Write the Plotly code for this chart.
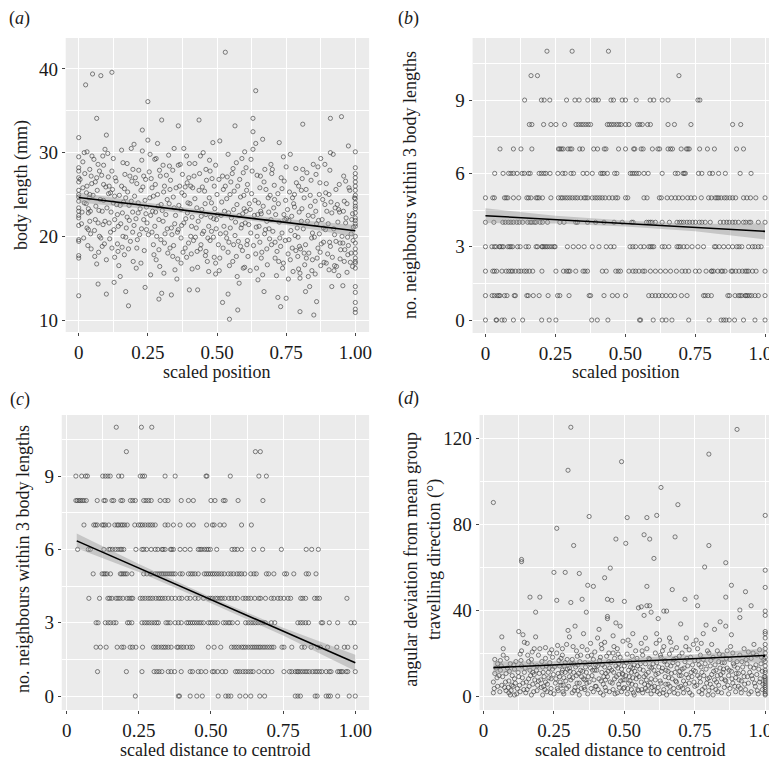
import plotly.graph_objects as go

W, H = 777, 759
FONT = "Liberation Serif"

# ---------------- panel (a): body length vs scaled position ----------------
a_points = [
    # column at 0
    (0, 31.8), (0, 29.5), (0, 28.2), (0, 27.8), (0, 27.0), (0, 26.5), (0, 25.5), (0, 25.0), (0, 24.7),
    (0, 24.2), (0, 23.4), (0, 23.0), (0, 22.5), (0, 22.2), (0, 21.3), (0, 19.6), (0, 19.4), (0, 17.7),
    (0, 17.4), (0, 12.9),
    (0.02, 30.0), (0.03, 30.1), (0.025, 38.1), (0.03, 26.0), (0.035, 22.8), (0.03, 21.0), (0.035, 20.8),
    (0.04, 25.0), (0.045, 18.5), (0.04, 28.0), (0.045, 27.2), (0.02, 24.0), (0.015, 25.8), (0.048, 29.6),
    (0.035, 23.3), (0.04, 21.8),
    (0.05, 39.4), (0.08, 39.2), (0.065, 34.1), (0.055, 29.2), (0.06, 26.5), (0.065, 27.0), (0.07, 28.6),
    (0.075, 27.8), (0.06, 22.0), (0.07, 21.6), (0.065, 16.7), (0.075, 20.0), (0.08, 19.8), (0.085, 23.0),
    (0.09, 26.2), (0.095, 30.4), (0.09, 28.5), (0.07, 14.3), (0.085, 18.8), (0.095, 21.8), (0.09, 24.3),
    (0.10, 32.1), (0.12, 39.6), (0.10, 13.1), (0.105, 29.9), (0.11, 26.0), (0.115, 25.2), (0.12, 27.8),
    (0.125, 29.3), (0.13, 24.8), (0.135, 26.6), (0.14, 22.6), (0.11, 21.6), (0.115, 20.5), (0.12, 18.6),
    (0.13, 17.5), (0.14, 19.1), (0.145, 16.5), (0.13, 22.0), (0.10, 17.2), (0.125, 24.0),
    (0.15, 15.2), (0.155, 30.3), (0.16, 28.8), (0.165, 25.7), (0.17, 24.6), (0.175, 22.3), (0.16, 20.0),
    (0.17, 19.9), (0.165, 17.8), (0.17, 13.4), (0.18, 11.7), (0.18, 18.5), (0.185, 27.2), (0.19, 24.2),
    (0.19, 30.5), (0.195, 22.9), (0.195, 20.5), (0.15, 23.7), (0.155, 26.0), (0.175, 28.7),
    (0.20, 31.0), (0.205, 27.0), (0.21, 26.3), (0.215, 24.0), (0.215, 22.8), (0.22, 20.2), (0.225, 16.8),
    (0.23, 32.7), (0.23, 30.2), (0.235, 27.2), (0.24, 24.3), (0.245, 20.8), (0.24, 13.9), (0.25, 36.1),
    (0.25, 31.5), (0.245, 23.5), (0.21, 18.6), (0.20, 21.3), (0.225, 25.5), (0.235, 22.0),
    (0.255, 27.7), (0.26, 22.5), (0.265, 20.5), (0.26, 15.4), (0.27, 24.8), (0.275, 21.2), (0.28, 29.3),
    (0.285, 31.1), (0.285, 25.0), (0.29, 22.0), (0.29, 12.5), (0.295, 27.2), (0.29, 18.4), (0.27, 19.0),
    (0.28, 17.2), (0.265, 25.8), (0.298, 23.8), (0.275, 29.2),
    (0.30, 33.9), (0.30, 13.2), (0.305, 28.5), (0.31, 26.0), (0.315, 22.6), (0.32, 20.9), (0.325, 29.7),
    (0.33, 25.6), (0.335, 13.0), (0.335, 21.0), (0.34, 27.9), (0.34, 17.6), (0.345, 23.4), (0.31, 19.2),
    (0.32, 24.4), (0.33, 18.6), (0.345, 30.5), (0.305, 21.8), (0.348, 16.0),
    (0.355, 14.9), (0.36, 33.2), (0.36, 28.5), (0.365, 26.0), (0.37, 23.2), (0.37, 19.8), (0.375, 27.4),
    (0.38, 30.5), (0.385, 25.9), (0.38, 21.6), (0.39, 17.5), (0.39, 29.6), (0.395, 24.0), (0.35, 22.5),
    (0.36, 20.8), (0.385, 18.6), (0.398, 27.0), (0.37, 16.8),
    (0.40, 13.6), (0.40, 28.7), (0.405, 26.0), (0.41, 22.3), (0.41, 16.1), (0.415, 19.5), (0.42, 28.7),
    (0.425, 21.0), (0.43, 13.6), (0.43, 16.3), (0.435, 33.9), (0.435, 25.5), (0.44, 29.6), (0.445, 23.2),
    (0.44, 18.5), (0.42, 24.5), (0.447, 20.3), (0.405, 20.0),
    (0.45, 30.0), (0.455, 25.4), (0.46, 22.6), (0.46, 18.2), (0.465, 17.0), (0.47, 21.2), (0.47, 15.8),
    (0.475, 27.8), (0.48, 24.0), (0.48, 20.6), (0.485, 31.2), (0.49, 26.0), (0.49, 17.5), (0.495, 15.5),
    (0.495, 16.8), (0.495, 28.5), (0.46, 28.0), (0.475, 19.5), (0.498, 22.0),
    (0.50, 25.0), (0.505, 19.0), (0.51, 31.4), (0.515, 22.5), (0.52, 12.1), (0.52, 27.2), (0.525, 21.2),
    (0.53, 42.0), (0.53, 26.0), (0.535, 24.5), (0.54, 29.8), (0.54, 18.1), (0.545, 10.1), (0.545, 16.5),
    (0.54, 13.1), (0.55, 26.5), (0.548, 21.0), (0.51, 17.4), (0.535, 19.8),
    (0.555, 27.5), (0.56, 23.2), (0.565, 33.2), (0.565, 20.1), (0.57, 17.6), (0.575, 11.2), (0.575, 26.0),
    (0.58, 14.4), (0.585, 24.7), (0.585, 18.8), (0.59, 29.3), (0.59, 21.4), (0.595, 27.6), (0.595, 16.2),
    (0.56, 19.0), (0.58, 22.5), (0.598, 23.3), (0.57, 28.8),
    (0.60, 30.1), (0.60, 16.3), (0.605, 23.0), (0.61, 26.2), (0.61, 19.5), (0.615, 21.4), (0.62, 15.9),
    (0.625, 25.1), (0.63, 34.1), (0.63, 32.5), (0.63, 30.4), (0.635, 22.5), (0.64, 37.4), (0.64, 31.1),
    (0.64, 17.9), (0.645, 27.3), (0.645, 20.0), (0.62, 23.2), (0.605, 28.2), (0.648, 14.8),
    (0.65, 24.0), (0.655, 19.3), (0.66, 22.7), (0.665, 31.6), (0.665, 15.4), (0.67, 13.4), (0.67, 26.5),
    (0.675, 20.8), (0.68, 18.5), (0.685, 24.6), (0.69, 19.7), (0.695, 28.6), (0.695, 22.0), (0.66, 17.4),
    (0.68, 21.8), (0.698, 27.5), (0.655, 25.8),
    (0.70, 28.0), (0.705, 23.4), (0.71, 19.3), (0.715, 15.3), (0.72, 12.7), (0.72, 25.1), (0.725, 31.2),
    (0.725, 21.7), (0.73, 18.8), (0.73, 11.6), (0.735, 25.7), (0.74, 29.5), (0.74, 16.8), (0.745, 22.0),
    (0.748, 24.3), (0.71, 17.4), (0.735, 20.4),
    (0.75, 12.6), (0.75, 28.3), (0.755, 23.2), (0.76, 19.6), (0.765, 17.2), (0.765, 29.8), (0.77, 22.4),
    (0.775, 15.8), (0.78, 25.0), (0.785, 18.3), (0.785, 28.1), (0.79, 21.0), (0.795, 26.0), (0.795, 16.1),
    (0.76, 21.9), (0.78, 23.5), (0.798, 18.8),
    (0.80, 11.0), (0.80, 15.0), (0.80, 15.6), (0.805, 21.8), (0.81, 33.4), (0.81, 28.0), (0.815, 24.6),
    (0.82, 19.0), (0.82, 13.4), (0.825, 27.6), (0.83, 15.2), (0.83, 22.5), (0.835, 14.0), (0.84, 26.7),
    (0.845, 20.4), (0.845, 17.2), (0.848, 28.6), (0.815, 18.0), (0.805, 25.5), (0.838, 23.6),
    (0.85, 10.6), (0.855, 15.5), (0.855, 24.2), (0.86, 21.5), (0.86, 12.2), (0.865, 28.3), (0.865, 18.6),
    (0.87, 25.0), (0.875, 16.5), (0.875, 29.3), (0.88, 22.0), (0.885, 19.3), (0.89, 23.8), (0.89, 28.6),
    (0.895, 16.8), (0.895, 26.3), (0.87, 20.3), (0.885, 21.0),
    (0.90, 17.9), (0.905, 25.0), (0.91, 34.1), (0.91, 30.0), (0.91, 18.8), (0.915, 14.0), (0.915, 22.8),
    (0.92, 29.8), (0.925, 16.5), (0.925, 20.2), (0.93, 25.6), (0.935, 23.8), (0.94, 15.3), (0.945, 19.2),
    (0.945, 17.3), (0.95, 34.3), (0.94, 23.2), (0.905, 16.0), (0.93, 19.4),
    (0.955, 14.1), (0.955, 19.2), (0.96, 17.0), (0.965, 26.6), (0.965, 21.6), (0.97, 23.9), (0.97, 15.7),
    (0.975, 30.8), (0.975, 18.9), (0.98, 25.5), (0.985, 20.3), (0.99, 16.4), (0.99, 22.7), (0.96, 24.2),
    (0.985, 18.0),
    # column at 1
    (1, 30.1), (1, 28.2), (1, 27.5), (1, 27.0), (1, 26.5), (1, 26.0), (1, 25.5), (1, 24.9), (1, 24.5),
    (1, 24.0), (1, 23.6), (1, 23.3), (1, 22.8), (1, 22.2), (1, 21.9), (1, 21.5), (1, 21.2), (1, 20.0),
    (1, 19.2), (1, 18.5), (1, 18.0), (1, 17.4), (1, 17.0), (1, 16.8), (1, 16.2), (1, 14.0), (1, 13.3),
    (1, 12.1), (1, 11.3), (1, 10.9),
]
# further points of the dense central cloud of panel (a)
a_points_cloud = [
    (0.005, 26.8), (0.012, 22.9), (0.018, 19.8), (0.022, 27.5), (0.027, 23.9), (0.033, 18.9), (0.038, 24.6),
    (0.043, 20.3), (0.047, 26.3), (0.01, 21.5), (0.028, 25.2), (0.042, 23.0), (0.015, 28.9),
    (0.052, 24.9), (0.057, 20.7), (0.062, 23.6), (0.067, 25.5), (0.072, 18.1), (0.078, 24.4), (0.083, 27.3),
    (0.088, 21.4), (0.093, 19.1), (0.098, 25.9), (0.058, 17.6), (0.073, 23.1), (0.087, 29.6),
    (0.102, 23.4), (0.107, 27.1), (0.112, 19.7), (0.117, 22.9), (0.122, 25.6), (0.127, 20.8), (0.132, 27.0),
    (0.137, 23.8), (0.142, 18.2), (0.147, 24.9), (0.108, 25.1), (0.128, 14.5), (0.143, 21.2),
    (0.152, 21.5), (0.157, 18.7), (0.162, 24.1), (0.167, 27.4), (0.172, 21.0), (0.177, 25.3), (0.182, 23.7),
    (0.187, 19.4), (0.192, 26.6), (0.197, 17.0), (0.158, 22.8), (0.183, 21.9), (0.196, 28.0),
    (0.202, 24.8), (0.207, 22.1), (0.212, 19.6), (0.217, 27.9), (0.222, 23.3), (0.227, 20.9), (0.232, 25.9),
    (0.237, 18.3), (0.242, 26.8), (0.247, 21.6), (0.208, 16.2), (0.228, 29.1), (0.243, 22.7),
    (0.252, 20.2), (0.257, 24.6), (0.262, 26.9), (0.267, 23.0), (0.272, 17.8), (0.277, 26.2), (0.282, 20.0),
    (0.287, 23.6), (0.292, 27.9), (0.297, 19.6), (0.258, 29.8), (0.278, 22.9), (0.293, 16.4),
    (0.302, 23.1), (0.307, 25.3), (0.312, 20.3), (0.317, 27.3), (0.322, 18.0), (0.327, 23.9), (0.332, 26.7),
    (0.337, 20.2), (0.342, 24.7), (0.347, 21.5), (0.308, 15.6), (0.328, 28.4), (0.343, 18.9),
    (0.352, 25.8), (0.357, 20.5), (0.362, 23.7), (0.367, 28.6), (0.372, 21.3), (0.377, 18.1), (0.382, 24.9),
    (0.387, 22.1), (0.392, 26.4), (0.397, 19.2), (0.358, 17.3), (0.373, 25.2), (0.393, 22.8),
    (0.402, 23.9), (0.407, 17.9), (0.412, 25.8), (0.417, 27.2), (0.422, 19.9), (0.427, 23.4), (0.432, 21.8),
    (0.437, 27.5), (0.442, 19.0), (0.447, 25.9), (0.408, 21.2), (0.428, 18.2), (0.443, 22.4),
    (0.452, 20.6), (0.457, 23.9), (0.462, 26.7), (0.467, 19.8), (0.472, 24.6), (0.477, 22.3), (0.482, 26.9),
    (0.487, 19.9), (0.492, 23.3), (0.497, 20.9), (0.458, 17.7), (0.473, 29.1), (0.488, 22.1),
    (0.502, 22.6), (0.507, 26.8), (0.512, 20.3), (0.517, 24.1), (0.522, 18.6), (0.527, 23.0), (0.532, 20.4),
    (0.537, 27.1), (0.542, 22.8), (0.547, 25.0), (0.508, 15.9), (0.523, 25.6), (0.543, 19.3),
    (0.552, 22.2), (0.557, 17.0), (0.562, 25.4), (0.567, 21.7), (0.572, 23.8), (0.577, 19.4), (0.582, 26.8),
    (0.587, 21.0), (0.592, 18.3), (0.597, 24.9), (0.558, 28.1), (0.573, 15.2), (0.593, 22.7),
    (0.602, 21.6), (0.607, 25.5), (0.612, 17.6), (0.617, 23.9), (0.622, 20.4), (0.627, 27.8), (0.632, 18.9),
    (0.637, 24.3), (0.642, 21.1), (0.647, 22.6), (0.608, 19.0), (0.623, 29.2), (0.643, 16.2),
    (0.652, 21.2), (0.657, 27.2), (0.662, 18.1), (0.667, 23.6), (0.672, 20.3), (0.677, 25.6), (0.682, 16.6),
    (0.687, 22.9), (0.692, 24.9), (0.697, 19.0), (0.658, 23.0), (0.673, 28.0), (0.688, 20.9),
    (0.702, 20.6), (0.707, 26.1), (0.712, 22.6), (0.717, 18.2), (0.722, 23.9), (0.727, 19.8), (0.732, 27.0),
    (0.737, 16.2), (0.742, 22.6), (0.747, 19.5), (0.708, 24.4), (0.723, 17.0), (0.743, 26.6),
    (0.752, 22.1), (0.757, 17.9), (0.762, 25.3), (0.767, 20.7), (0.772, 18.6), (0.777, 23.9), (0.782, 20.1),
    (0.787, 26.4), (0.792, 17.6), (0.797, 22.9), (0.758, 14.9), (0.773, 24.6), (0.793, 19.9),
    (0.802, 18.5), (0.807, 23.3), (0.812, 20.9), (0.817, 16.6), (0.822, 25.6), (0.827, 21.8), (0.832, 18.0),
    (0.837, 24.9), (0.842, 19.8), (0.847, 22.4), (0.808, 26.9), (0.823, 17.4), (0.843, 15.9),
    (0.852, 19.9), (0.857, 23.0), (0.862, 17.4), (0.867, 21.9), (0.872, 26.4), (0.877, 19.1), (0.882, 24.4),
    (0.887, 16.9), (0.892, 20.8), (0.897, 23.0), (0.858, 27.4), (0.873, 18.1), (0.893, 25.2),
    (0.902, 21.5), (0.907, 19.3), (0.912, 24.1), (0.917, 17.5), (0.922, 20.9), (0.927, 23.4), (0.932, 16.4),
    (0.937, 21.7), (0.942, 26.2), (0.947, 18.4), (0.908, 27.9), (0.923, 15.9), (0.943, 22.9),
    (0.952, 20.0), (0.957, 23.0), (0.962, 18.4), (0.967, 22.2), (0.972, 19.9), (0.977, 25.8), (0.982, 16.9),
    (0.987, 22.0), (0.992, 19.5), (0.997, 24.6), (0.958, 27.2), (0.973, 17.8), (0.993, 21.1),
]
a_fit_x = [0, 1]
a_fit_y = [24.64, 20.66]
a_band_x = [0, 0.25, 0.5, 0.75, 1]
a_band_lo = [24.04, 23.28, 22.35, 21.36, 19.96]
a_band_hi = [25.24, 24.02, 22.95, 22.06, 21.36]

# ---------------- panel (b): neighbours vs scaled position ----------------
b_n11 = [0.22, 0.31, 0.44]
b_n10 = [0.163, 0.186, 0.692]
b_n9 = [0.14, 0.20, 0.21, 0.23, 0.29, 0.32, 0.335, 0.366, 0.385, 0.394, 0.404, 0.449, 0.458, 0.489,
        0.501, 0.539, 0.589, 0.602, 0.632, 0.653, 0.760, 0.767]
b_n8 = [0.157, 0.166, 0.208, 0.234, 0.252, 0.283, 0.324, 0.333, 0.342, 0.350, 0.359, 0.368, 0.376, 0.436,
        0.443, 0.451, 0.459, 0.469, 0.477, 0.485, 0.501, 0.513, 0.544, 0.552, 0.561, 0.580, 0.590, 0.653,
        0.676, 0.735, 0.884, 0.913]
b_n7 = [0.052, 0.100, 0.127, 0.166, 0.261, 0.266, 0.272, 0.278, 0.295, 0.303, 0.309, 0.337, 0.347, 0.387,
        0.401, 0.425, 0.431, 0.476, 0.501, 0.530, 0.534, 0.557, 0.564, 0.597, 0.617, 0.623, 0.653, 0.662,
        0.669, 0.700, 0.719, 0.724, 0.729, 0.766, 0.794, 0.819, 0.898, 0.923]
b_n6 = [0.033, 0.063, 0.083, 0.091, 0.100, 0.113, 0.131, 0.139, 0.154, 0.160, 0.192, 0.200, 0.209, 0.216,
        0.231, 0.259, 0.276, 0.285, 0.306, 0.315, 0.349, 0.363, 0.382, 0.412, 0.418, 0.424, 0.436, 0.462,
        0.470, 0.518, 0.525, 0.532, 0.540, 0.549, 0.567, 0.582, 0.632, 0.679, 0.688, 0.707, 0.711, 0.715,
        0.762, 0.774, 0.802, 0.812, 0.834, 0.858, 0.911, 0.950]
b_n5 = [0.000, 0.026, 0.032, 0.068, 0.074, 0.080, 0.100, 0.119, 0.148, 0.154, 0.163, 0.181, 0.186, 0.192,
        0.204, 0.234, 0.261, 0.270, 0.276, 0.285, 0.293, 0.302, 0.311, 0.321, 0.329, 0.341, 0.353, 0.359,
        0.366, 0.382, 0.392, 0.400, 0.409, 0.418, 0.428, 0.442, 0.454, 0.466, 0.473, 0.501, 0.509, 0.567,
        0.578, 0.622, 0.629, 0.650, 0.665, 0.679, 0.691, 0.705, 0.723, 0.735, 0.748, 0.772, 0.798, 0.808,
        0.822, 0.828, 0.834, 0.843, 0.855, 0.863, 0.874, 0.884, 0.895, 0.923, 0.935, 0.948, 0.967, 1.000]
b_n4 = [0.000, 0.030, 0.062, 0.071, 0.082, 0.091, 0.100, 0.112, 0.121, 0.133, 0.151, 0.160, 0.166, 0.175,
        0.181, 0.195, 0.204, 0.222, 0.266, 0.281, 0.323, 0.329, 0.365, 0.394, 0.424, 0.460, 0.489, 0.523,
        0.528, 0.576, 0.584, 0.590, 0.596, 0.608, 0.632, 0.658, 0.685, 0.694, 0.701, 0.709, 0.721, 0.730,
        0.741, 0.751, 0.765, 0.774, 0.786, 0.804, 0.840, 0.852, 0.863, 0.872, 0.884, 0.893, 0.905, 0.923,
        0.931, 0.943, 0.949, 0.976, 1.000]
b_n3 = [0.000, 0.023, 0.032, 0.038, 0.050, 0.052, 0.059, 0.064, 0.080, 0.086, 0.091, 0.097, 0.115, 0.124,
        0.145, 0.154, 0.181, 0.186, 0.202, 0.204, 0.210, 0.216, 0.222, 0.230, 0.238, 0.246, 0.249, 0.293,
        0.314, 0.333, 0.353, 0.382, 0.406, 0.432, 0.448, 0.460, 0.517, 0.527, 0.537, 0.555, 0.567, 0.584,
        0.590, 0.596, 0.602, 0.632, 0.641, 0.656, 0.685, 0.691, 0.697, 0.709, 0.721, 0.739, 0.760, 0.780,
        0.819, 0.824, 0.836, 0.852, 0.869, 0.884, 0.899, 0.907, 0.917, 0.941, 0.955, 0.964, 0.976, 0.986]
b_n2 = [0.000, 0.026, 0.032, 0.040, 0.059, 0.074, 0.083, 0.091, 0.097, 0.107, 0.119, 0.127, 0.139, 0.147,
        0.157, 0.169, 0.202, 0.252, 0.279, 0.290, 0.297, 0.302, 0.323, 0.349, 0.356, 0.365, 0.418, 0.432,
        0.466, 0.475, 0.483, 0.513, 0.528, 0.537, 0.549, 0.563, 0.570, 0.590, 0.608, 0.626, 0.644, 0.662,
        0.683, 0.703, 0.715, 0.727, 0.751, 0.765, 0.789, 0.808, 0.810, 0.816, 0.831, 0.843, 0.848, 0.857,
        0.879, 0.884, 0.895, 0.907, 0.919, 0.929, 0.935, 0.941, 0.955, 0.968, 1.000]
b_n1 = [0.000, 0.024, 0.032, 0.042, 0.048, 0.052, 0.068, 0.077, 0.103, 0.107, 0.148, 0.153, 0.171, 0.192,
        0.224, 0.258, 0.266, 0.299, 0.371, 0.376, 0.424, 0.454, 0.472, 0.501, 0.584, 0.596, 0.608, 0.620,
        0.632, 0.646, 0.662, 0.677, 0.701, 0.721, 0.780, 0.786, 0.796, 0.808, 0.867, 0.873, 0.893, 0.905,
        0.911, 0.917, 0.929, 0.932, 0.937, 0.944, 0.952, 0.964, 0.976, 1.000]
b_n0 = [0.000, 0.038, 0.040, 0.059, 0.068, 0.100, 0.133, 0.201, 0.228, 0.252, 0.380, 0.400, 0.438, 0.551,
        0.555, 0.600, 0.632, 0.646, 0.667, 0.727, 0.800, 0.843, 0.852, 0.860, 0.872, 0.891, 0.923, 0.964,
        1.000]
b_fit_x = [0, 1]
b_fit_y = [4.27, 3.63]
b_band_x = [0, 0.25, 0.5, 0.75, 1]
b_band_lo = [3.97, 3.95, 3.83, 3.63, 3.30]
b_band_hi = [4.57, 4.27, 4.07, 3.93, 3.96]

# ---------------- panel (c): neighbours vs distance to centroid ----------------
c_n11 = [0.172, 0.259, 0.295]
c_n10 = [0.207, 0.654, 0.671]
c_n9 = [0.032, 0.052, 0.066, 0.072, 0.125, 0.134, 0.143, 0.151, 0.180, 0.191, 0.255, 0.263, 0.270, 0.341,
        0.376, 0.483, 0.486, 0.567, 0.666, 0.692]
c_n8 = [0.032, 0.037, 0.043, 0.048, 0.054, 0.060, 0.068, 0.106, 0.129, 0.134, 0.157, 0.163, 0.188, 0.194,
        0.221, 0.229, 0.238, 0.267, 0.275, 0.284, 0.293, 0.324, 0.341, 0.351, 0.397, 0.422, 0.439, 0.500,
        0.514, 0.543, 0.549, 0.594, 0.680]
c_n7 = [0.060, 0.094, 0.100, 0.106, 0.123, 0.128, 0.134, 0.146, 0.167, 0.175, 0.180, 0.188, 0.194, 0.201,
        0.210, 0.236, 0.249, 0.256, 0.263, 0.272, 0.282, 0.290, 0.298, 0.307, 0.341, 0.351, 0.370, 0.393,
        0.422, 0.439, 0.485, 0.505, 0.511, 0.531, 0.546, 0.606, 0.640]
c_n6 = [0.038, 0.075, 0.082, 0.129, 0.146, 0.151, 0.159, 0.169, 0.178, 0.186, 0.191, 0.198, 0.240, 0.261,
        0.267, 0.277, 0.293, 0.307, 0.316, 0.330, 0.334, 0.341, 0.360, 0.364, 0.370, 0.393, 0.410, 0.428,
        0.456, 0.462, 0.468, 0.477, 0.485, 0.491, 0.498, 0.520, 0.573, 0.582, 0.591, 0.606, 0.648, 0.679,
        0.744, 0.830, 0.849, 0.872]
c_n5 = [0.092, 0.123, 0.129, 0.134, 0.140, 0.152, 0.186, 0.191, 0.197, 0.203, 0.209, 0.226, 0.267, 0.278,
        0.290, 0.295, 0.307, 0.314, 0.321, 0.328, 0.334, 0.341, 0.348, 0.355, 0.362, 0.369, 0.376, 0.393,
        0.401, 0.422, 0.430, 0.437, 0.445, 0.456, 0.477, 0.484, 0.491, 0.498, 0.505, 0.512, 0.520, 0.528,
        0.537, 0.546, 0.560, 0.569, 0.578, 0.590, 0.598, 0.606, 0.617, 0.638, 0.649, 0.657, 0.692, 0.700,
        0.718, 0.755, 0.762, 0.787, 0.830, 0.838, 0.864]
c_n4 = [0.077, 0.114, 0.143, 0.149, 0.157, 0.171, 0.178, 0.185, 0.195, 0.209, 0.217, 0.224, 0.229, 0.255,
        0.263, 0.272, 0.282, 0.290, 0.298, 0.309, 0.318, 0.325, 0.332, 0.341, 0.352, 0.364, 0.376, 0.390,
        0.399, 0.417, 0.428, 0.445, 0.456, 0.474, 0.491, 0.498, 0.505, 0.516, 0.523, 0.532, 0.539, 0.548,
        0.562, 0.571, 0.582, 0.592, 0.611, 0.620, 0.629, 0.638, 0.652, 0.666, 0.672, 0.689, 0.709, 0.718,
        0.732, 0.741, 0.753, 0.767, 0.776, 0.811, 0.818, 0.828, 0.859, 0.868, 0.876, 0.971]
c_n3 = [0.102, 0.109, 0.134, 0.144, 0.152, 0.163, 0.171, 0.211, 0.217, 0.226, 0.261, 0.270, 0.278, 0.286,
        0.295, 0.304, 0.312, 0.318, 0.344, 0.351, 0.359, 0.376, 0.387, 0.397, 0.416, 0.422, 0.429, 0.436,
        0.443, 0.451, 0.459, 0.466, 0.474, 0.491, 0.498, 0.505, 0.514, 0.523, 0.543, 0.551, 0.560, 0.566,
        0.574, 0.592, 0.620, 0.629, 0.638, 0.646, 0.654, 0.663, 0.672, 0.680, 0.688, 0.709, 0.721, 0.801,
        0.810, 0.818, 0.828, 0.838, 0.882, 0.887, 0.910, 0.939, 0.985, 0.997]
c_n2 = [0.102, 0.117, 0.137, 0.175, 0.191, 0.198, 0.220, 0.228, 0.240, 0.263, 0.301, 0.309, 0.318, 0.328,
        0.336, 0.343, 0.352, 0.362, 0.382, 0.387, 0.397, 0.405, 0.416, 0.428, 0.436, 0.491, 0.511, 0.534,
        0.571, 0.580, 0.588, 0.596, 0.606, 0.613, 0.620, 0.629, 0.638, 0.645, 0.652, 0.659, 0.666, 0.672,
        0.680, 0.687, 0.695, 0.703, 0.711, 0.718, 0.746, 0.753, 0.780, 0.815, 0.824, 0.847, 0.870, 0.879,
        0.904, 0.936, 0.962, 0.974, 1.000]
c_n1 = [0.107, 0.207, 0.261, 0.303, 0.312, 0.320, 0.330, 0.352, 0.362, 0.374, 0.397, 0.428, 0.436, 0.456,
        0.466, 0.482, 0.505, 0.511, 0.523, 0.539, 0.551, 0.585, 0.592, 0.600, 0.611, 0.620, 0.629, 0.638,
        0.646, 0.666, 0.684, 0.697, 0.711, 0.753, 0.772, 0.780, 0.792, 0.799, 0.803, 0.810, 0.818, 0.826,
        0.833, 0.841, 0.852, 0.861, 0.868, 0.876, 0.884, 0.899, 0.910, 0.916, 0.939, 0.945, 0.951, 0.956,
        0.968, 0.974, 1.000]
c_n0 = [0.238, 0.387, 0.391, 0.428, 0.451, 0.470, 0.525, 0.551, 0.560, 0.569, 0.600, 0.620, 0.638, 0.669,
        0.686, 0.792, 0.801, 0.810, 0.861, 0.868, 0.899, 0.907, 0.914, 0.939, 0.979, 1.000]
c_fit_x = [0.035, 1]
c_fit_y = [6.35, 1.36]
c_band_x = [0.035, 0.25, 0.5, 0.75, 1]
c_band_lo = [6.05, 5.08, 3.80, 2.48, 1.03]
c_band_hi = [6.65, 5.40, 4.04, 2.80, 1.69]

# ---------------- panel (d): angular deviation vs distance to centroid ----------------
d_points = [
    (0.035, 90), (0.035, 1.5), (0.035, 6.5), (0.04, 10.5), (0.04, 17), (0.045, 13), (0.05, 4.5), (0.05, 15),
    (0.055, 9.5), (0.06, 16.5), (0.065, 5), (0.065, 27.5), (0.07, 22), (0.075, 4), (0.08, 10.5), (0.085, 13),
    (0.09, 1.5), (0.09, 7), (0.095, 0.5), (0.095, 15), (0.06, 12), (0.08, 2.5), (0.07, 19),
    (0.10, 5), (0.105, 4.5), (0.11, 0.5), (0.11, 12.5), (0.115, 16), (0.12, 3.5), (0.125, 30), (0.125, 9),
    (0.13, 2), (0.13, 19.5), (0.135, 14), (0.135, 63.5), (0.135, 62.5), (0.14, 28.5), (0.14, 6), (0.145, 11),
    (0.145, 25), (0.15, 1.5), (0.11, 8), (0.135, 21),
    (0.155, 24.5), (0.155, 3), (0.16, 8), (0.165, 12), (0.165, 46), (0.17, 0.5), (0.17, 17), (0.175, 5.5),
    (0.18, 22), (0.18, 10), (0.185, 39), (0.185, 27.5), (0.19, 2.5), (0.19, 14), (0.195, 7), (0.195, 19),
    (0.16, 16), (0.175, 11),
    (0.20, 46), (0.20, 22), (0.205, 4), (0.21, 13.5), (0.21, 0.5), (0.215, 9), (0.22, 17.5), (0.22, 6.5),
    (0.225, 2), (0.23, 11), (0.235, 20), (0.235, 15.5), (0.24, 3.5), (0.24, 8), (0.245, 12.5), (0.25, 57.5),
    (0.25, 1), (0.22, 22.5), (0.245, 18),
    (0.255, 6), (0.26, 78), (0.26, 44.5), (0.26, 20), (0.265, 10.5), (0.265, 2.5), (0.27, 14), (0.275, 17.5),
    (0.275, 5), (0.28, 22), (0.28, 12), (0.285, 8.5), (0.285, 1), (0.29, 57.5), (0.29, 15.5), (0.295, 24),
    (0.295, 3.5), (0.27, 9), (0.29, 11), (0.28, 19),
    (0.30, 105), (0.30, 30.5), (0.305, 27.5), (0.305, 13), (0.31, 125), (0.31, 43.5), (0.31, 7.5),
    (0.315, 1.5), (0.315, 17), (0.32, 70), (0.32, 11), (0.325, 32.5), (0.325, 4), (0.33, 21), (0.33, 9.5),
    (0.335, 14.5), (0.34, 57), (0.34, 6), (0.34, 0.5), (0.345, 19), (0.345, 12), (0.335, 2.5), (0.32, 15),
    (0.305, 9),
    (0.35, 45), (0.35, 23), (0.355, 8), (0.355, 29), (0.36, 3), (0.36, 15.5), (0.365, 39), (0.365, 11),
    (0.37, 51.5), (0.37, 18.5), (0.37, 1), (0.375, 83.5), (0.375, 6.5), (0.38, 13), (0.38, 24.5),
    (0.385, 9.5), (0.39, 51), (0.39, 2), (0.39, 17), (0.395, 12), (0.395, 20.5), (0.36, 7.5),
    (0.40, 4.5), (0.405, 27), (0.405, 14), (0.41, 31), (0.41, 8), (0.415, 1.5), (0.415, 18), (0.42, 11),
    (0.42, 22), (0.425, 5.5), (0.43, 55), (0.43, 25), (0.43, 13.5), (0.435, 2.5), (0.44, 45), (0.44, 37),
    (0.44, 36), (0.44, 9), (0.445, 16), (0.445, 20), (0.45, 59.5), (0.45, 6.5), (0.425, 0.5), (0.435, 10.5),
    (0.455, 44.5), (0.455, 12), (0.46, 3), (0.46, 28), (0.465, 17.5), (0.465, 8), (0.47, 73), (0.47, 34),
    (0.47, 14), (0.475, 1.5), (0.475, 22), (0.48, 10), (0.48, 5.5), (0.485, 32.5), (0.485, 18), (0.49, 109),
    (0.49, 12.5), (0.49, 2), (0.495, 7.5), (0.495, 25.5), (0.46, 20), (0.48, 15), (0.495, 10),
    (0.50, 44), (0.50, 14), (0.50, 4), (0.505, 71), (0.505, 9.5), (0.51, 83), (0.51, 19.5), (0.51, 1),
    (0.515, 12), (0.515, 6), (0.52, 23.5), (0.52, 16), (0.525, 3), (0.525, 11), (0.53, 29), (0.53, 8.5),
    (0.535, 14.5), (0.535, 0.5), (0.54, 21), (0.54, 5), (0.545, 10), (0.545, 17.5), (0.55, 41), (0.55, 2.5),
    (0.52, 7), (0.53, 13),
    (0.555, 12.5), (0.56, 41.5), (0.56, 6.5), (0.565, 19), (0.565, 1.5), (0.57, 75), (0.57, 37.5), (0.57, 9),
    (0.575, 15), (0.575, 3.5), (0.58, 83), (0.58, 51), (0.58, 42), (0.58, 22), (0.585, 11), (0.585, 5),
    (0.59, 73), (0.59, 42), (0.59, 17), (0.595, 39), (0.595, 8), (0.595, 1), (0.56, 24.5), (0.575, 27),
    (0.59, 13.5),
    (0.605, 64), (0.605, 12), (0.605, 2.5), (0.61, 20), (0.61, 7.5), (0.615, 84), (0.615, 15.5), (0.62, 36),
    (0.62, 4), (0.62, 10.5), (0.625, 26), (0.625, 1), (0.63, 97), (0.63, 18), (0.63, 6), (0.635, 13),
    (0.64, 39.5), (0.64, 23), (0.64, 3), (0.645, 9), (0.645, 16.5), (0.65, 39.5), (0.65, 0.5), (0.615, 29),
    (0.635, 21),
    (0.655, 11.5), (0.655, 5.5), (0.66, 19.5), (0.66, 2), (0.665, 14), (0.665, 25), (0.67, 49.5), (0.67, 8),
    (0.675, 17), (0.675, 3.5), (0.68, 74), (0.68, 11), (0.685, 22.5), (0.685, 6.5), (0.69, 89), (0.69, 15),
    (0.69, 1), (0.695, 18.5), (0.695, 9.5), (0.70, 33.5), (0.66, 27),
    (0.70, 4.5), (0.705, 12.5), (0.705, 20), (0.71, 7), (0.71, 1.5), (0.715, 45), (0.715, 16), (0.72, 10),
    (0.72, 27), (0.725, 3), (0.725, 14), (0.73, 21.5), (0.73, 6), (0.735, 18), (0.74, 9), (0.74, 0.5),
    (0.745, 12), (0.745, 24), (0.75, 4.5), (0.75, 16.5),
    (0.755, 46), (0.755, 26), (0.76, 42), (0.76, 9.5), (0.765, 2), (0.765, 14.5), (0.77, 19), (0.77, 6.5),
    (0.775, 11), (0.775, 1), (0.78, 29), (0.78, 17), (0.785, 60), (0.785, 4), (0.79, 33), (0.79, 12.5),
    (0.795, 21), (0.795, 8), (0.80, 112.5), (0.80, 70), (0.80, 20), (0.80, 2.5), (0.76, 22),
    (0.805, 14), (0.805, 5.5), (0.81, 24), (0.81, 10), (0.815, 0.5), (0.815, 18), (0.82, 31), (0.82, 7.5),
    (0.825, 12), (0.825, 3), (0.83, 9.5), (0.83, 21), (0.835, 16), (0.835, 5), (0.84, 34.5), (0.84, 13),
    (0.845, 1.5), (0.845, 8), (0.85, 19), (0.85, 11),
    (0.855, 4), (0.855, 15.5), (0.86, 62), (0.86, 46), (0.86, 32.5), (0.86, 7), (0.865, 13), (0.865, 21),
    (0.87, 1), (0.87, 9.5), (0.875, 17), (0.875, 3.5), (0.88, 51.5), (0.88, 28.5), (0.88, 11.5), (0.885, 6),
    (0.885, 20), (0.89, 14), (0.895, 2), (0.895, 8.5), (0.90, 124), (0.90, 16),
    (0.905, 10.5), (0.905, 4.5), (0.91, 40), (0.91, 36.5), (0.91, 19), (0.915, 7), (0.915, 1.5),
    (0.92, 13.5), (0.925, 22), (0.925, 9), (0.93, 48.5), (0.93, 3), (0.935, 15), (0.94, 6), (0.94, 20.5),
    (0.945, 11), (0.95, 42), (0.95, 2), (0.95, 17.5),
    (0.955, 8), (0.96, 13), (0.96, 24), (0.965, 4.5), (0.97, 19), (0.97, 10), (0.975, 1), (0.98, 21.5),
    (0.98, 6.5), (0.985, 15), (0.99, 3), (0.99, 11.5), (0.995, 17),
    (1, 84), (1, 58.5), (1, 50.5), (1, 39.5), (1, 37.5), (1, 30), (1, 29), (1, 27), (1, 24), (1, 22),
    (1, 20), (1, 18), (1, 16), (1, 14), (1, 12), (1, 11), (1, 9), (1, 8), (1, 7), (1, 6), (1, 5), (1, 4),
    (1, 3), (1, 2), (1, 1), (1, 0.5),
]
# further points of the dense low band of panel (d)
d_points_cloud = [
    (0.038, 3.5), (0.048, 8.5), (0.058, 2), (0.063, 14), (0.068, 9), (0.078, 6.5), (0.083, 17.5), (0.088, 4),
    (0.092, 11.5), (0.098, 2.5),
    (0.102, 9.5), (0.108, 14.5), (0.113, 6), (0.118, 1), (0.123, 11), (0.128, 5), (0.133, 16.5), (0.138, 8.5),
    (0.143, 3), (0.148, 13),
    (0.152, 6.5), (0.157, 19), (0.162, 4.5), (0.167, 9.5), (0.172, 14.5), (0.178, 2), (0.182, 7.5),
    (0.188, 12), (0.192, 5), (0.198, 10.5), (0.173, 20.5),
    (0.203, 7.5), (0.207, 16), (0.212, 11), (0.218, 3), (0.223, 14), (0.227, 5.5), (0.232, 8.5),
    (0.238, 1.5), (0.242, 21.5), (0.248, 10), (0.213, 4.5), (0.233, 13),
    (0.252, 13.5), (0.257, 8), (0.262, 3.5), (0.268, 16.5), (0.272, 6.5), (0.278, 11), (0.282, 2),
    (0.287, 14), (0.292, 7), (0.298, 12.5), (0.263, 23.5), (0.283, 5), (0.297, 17),
    (0.302, 4.5), (0.307, 11.5), (0.312, 15), (0.317, 8.5), (0.322, 2.5), (0.327, 13.5), (0.332, 6),
    (0.337, 10.5), (0.342, 16), (0.347, 3.5), (0.318, 23), (0.333, 18.5), (0.348, 9),
    (0.352, 11.5), (0.357, 4), (0.362, 13.5), (0.367, 6), (0.372, 9), (0.377, 15), (0.382, 3.5),
    (0.387, 12), (0.392, 7.5), (0.397, 4.5), (0.368, 21.5), (0.383, 19), (0.398, 14.5),
    (0.402, 12), (0.407, 3), (0.412, 16.5), (0.417, 7), (0.422, 14.5), (0.427, 9), (0.432, 4), (0.437, 18.5),
    (0.442, 11.5), (0.447, 2), (0.418, 24), (0.433, 7.5), (0.448, 13),
    (0.452, 15.5), (0.457, 6), (0.462, 11), (0.467, 1), (0.472, 9), (0.477, 13), (0.482, 4), (0.487, 7),
    (0.492, 16), (0.497, 3.5), (0.463, 23), (0.478, 19.5), (0.493, 10.5),
    (0.502, 7.5), (0.507, 15.5), (0.512, 3.5), (0.517, 9), (0.522, 13.5), (0.527, 5.5), (0.532, 1.5),
    (0.537, 11.5), (0.542, 8), (0.547, 14), (0.513, 26), (0.528, 18.5), (0.548, 3),
    (0.552, 9), (0.557, 15), (0.562, 3), (0.567, 12), (0.572, 5.5), (0.577, 10), (0.582, 2.5), (0.587, 17.5),
    (0.592, 6), (0.597, 13), (0.563, 21), (0.578, 7.5), (0.598, 4),
    (0.602, 15), (0.607, 4.5), (0.612, 10), (0.617, 2), (0.622, 13.5), (0.627, 7), (0.632, 11.5),
    (0.637, 1.5), (0.642, 16), (0.647, 5.5), (0.613, 24.5), (0.628, 19), (0.648, 12),
    (0.652, 14.5), (0.657, 8.5), (0.662, 4.5), (0.667, 10.5), (0.672, 15.5), (0.677, 1.5), (0.682, 7),
    (0.687, 13), (0.692, 4), (0.697, 11.5), (0.668, 21.5), (0.683, 17.5),
    (0.702, 9.5), (0.707, 3.5), (0.712, 13), (0.717, 5.5), (0.722, 17.5), (0.727, 8.5), (0.732, 1.5),
    (0.737, 11), (0.742, 14.5), (0.747, 6.5), (0.718, 23),
    (0.752, 11.5), (0.757, 5), (0.762, 16.5), (0.767, 8.5), (0.772, 13.5), (0.777, 3), (0.782, 9.5),
    (0.787, 15), (0.792, 6), (0.797, 0.5), (0.773, 24.5),
    (0.802, 8.5), (0.807, 16.5), (0.812, 4), (0.817, 11.5), (0.822, 14.5), (0.827, 6.5), (0.832, 2),
    (0.837, 19.5), (0.842, 10), (0.847, 15.5),
    (0.852, 12.5), (0.857, 7.5), (0.862, 17.5), (0.867, 5), (0.872, 12), (0.877, 23), (0.882, 8),
    (0.887, 15), (0.892, 4.5), (0.897, 10.5),
    (0.902, 13), (0.907, 7.5), (0.912, 3.5), (0.917, 16), (0.922, 11), (0.927, 5.5), (0.932, 17), (0.937, 9),
    (0.942, 1), (0.947, 13.5),
    (0.952, 9.5), (0.957, 20), (0.962, 6), (0.967, 14.5), (0.972, 2.5), (0.977, 12.5), (0.982, 8),
    (0.987, 18), (0.992, 5.5), (0.997, 9),
]
d_fit_x = [0.035, 1]
d_fit_y = [13.2, 18.9]
d_band_x = [0.035, 0.25, 0.5, 0.75, 1]
d_band_lo = [10.2, 12.8, 14.7, 15.9, 15.6]
d_band_hi = [16.2, 16.2, 17.3, 19.3, 22.2]

# tick labels
x_ticks = [0, 0.25, 0.5, 0.75, 1.0]
x_ticktext = ["0", "0.25", "0.50", "0.75", "1.00"]
x_minor = [0.125, 0.375, 0.625, 0.875]
y_a_ticks = [10, 20, 30, 40]
y_n_ticks = [0, 3, 6, 9]
y_d_ticks = [0, 40, 80, 120]


# ---------------------------------------------------------------------------
def levels_to_xy(levels):
    xs, ys = [], []
    for lev, vals in levels:
        xs += vals
        ys += [lev] * len(vals)
    return xs, ys


b_x, b_y = levels_to_xy([(0, b_n0), (1, b_n1), (2, b_n2), (3, b_n3), (4, b_n4), (5, b_n5), (6, b_n6),
                         (7, b_n7), (8, b_n8), (9, b_n9), (10, b_n10), (11, b_n11)])
c_x, c_y = levels_to_xy([(0, c_n0), (1, c_n1), (2, c_n2), (3, c_n3), (4, c_n4), (5, c_n5), (6, c_n6),
                         (7, c_n7), (8, c_n8), (9, c_n9), (10, c_n10), (11, c_n11)])
a_all = a_points + a_points_cloud
d_all = d_points + d_points_cloud
a_x = [p[0] for p in a_all]
a_y = [p[1] for p in a_all]
d_x = [p[0] for p in d_all]
d_y = [p[1] for p in d_all]

fig = go.Figure()
marker = dict(symbol="circle-open", size=4.2, color="rgba(60,60,60,0.85)", line=dict(width=0.75))

panels = [
    ("x", "y", a_x, a_y, a_fit_x, a_fit_y, a_band_x, a_band_lo, a_band_hi),
    ("x2", "y2", b_x, b_y, b_fit_x, b_fit_y, b_band_x, b_band_lo, b_band_hi),
    ("x3", "y3", c_x, c_y, c_fit_x, c_fit_y, c_band_x, c_band_lo, c_band_hi),
    ("x4", "y4", d_x, d_y, d_fit_x, d_fit_y, d_band_x, d_band_lo, d_band_hi),
]
for xa, ya, px, py, fx, fy, bx, blo, bhi in panels:
    fig.add_trace(go.Scatter(x=px, y=py, mode="markers", marker=marker, xaxis=xa, yaxis=ya,
                             showlegend=False, hoverinfo="skip"))
    fig.add_trace(go.Scatter(x=bx + bx[::-1], y=blo + bhi[::-1], mode="lines", fill="toself",
                             fillcolor="rgba(153,153,153,0.45)", line=dict(width=0),
                             xaxis=xa, yaxis=ya, showlegend=False, hoverinfo="skip"))
    fig.add_trace(go.Scatter(x=fx, y=fy, mode="lines", line=dict(color="black", width=1.6),
                             xaxis=xa, yaxis=ya, showlegend=False, hoverinfo="skip"))


def px_x(p):
    return p / W


def px_y(p):
    return 1 - p / H


tickfont = dict(family=FONT, size=19, color="#1a1a1a")


def make_axis(dom, rng, tv, tt, minor_vals, anchor):
    return dict(domain=dom, range=rng, tickvals=tv, ticktext=tt, showgrid=True, gridcolor="white",
                gridwidth=1.1, zeroline=False, showline=False, ticks="outside", ticklen=3,
                tickcolor="#444", tickwidth=1, tickfont=tickfont, anchor=anchor,
                minor=dict(tickvals=minor_vals, showgrid=True, gridcolor="white", gridwidth=0.5, ticks=""))


fig.update_layout(
    width=W, height=H, margin=dict(l=0, r=0, t=0, b=0),
    paper_bgcolor="white", plot_bgcolor="#EBEBEB",
    font=dict(family=FONT),
    xaxis=make_axis([px_x(57), px_x(362)], [-0.047, 1.05], x_ticks, x_ticktext, x_minor, "y"),
    yaxis=make_axis([px_y(324), px_y(30)], [8.57, 43.7], y_a_ticks, [str(v) for v in y_a_ticks],
                    [15, 25, 35], "x"),
    xaxis2=make_axis([px_x(466), px_x(774)], [-0.046, 1.05], x_ticks, x_ticktext, x_minor, "y2"),
    yaxis2=make_axis([px_y(325), px_y(30)], [-0.53, 11.54], y_n_ticks, [str(v) for v in y_n_ticks],
                     [1.5, 4.5, 7.5, 10.5], "x2"),
    xaxis3=make_axis([px_x(53), px_x(362)], [-0.017, 1.048], x_ticks, x_ticktext, x_minor, "y3"),
    yaxis3=make_axis([px_y(702), px_y(407)], [-0.57, 11.5], y_n_ticks, [str(v) for v in y_n_ticks],
                     [1.5, 4.5, 7.5, 10.5], "x3"),
    xaxis4=make_axis([px_x(473), px_x(774)], [-0.014, 1.049], x_ticks, x_ticktext, x_minor, "y4"),
    yaxis4=make_axis([px_y(702), px_y(407)], [-6.5, 130.7], y_d_ticks, [str(v) for v in y_d_ticks],
                     [20, 60, 100], "x4"),
)

title_font = dict(family=FONT, size=18, color="#1a1a1a")
annots = [
    ("(<i>a</i>)", 11, 11, 0),
    ("(<i>b</i>)", 402, 11, 0),
    ("(<i>c</i>)", 11, 391, 0),
    ("(<i>d</i>)", 402, 390, 0),
    ("body length (mm)", 12, 177, -90),
    ("scaled position", 209, 364, 0),
    ("no. neighbours within 3 body lengths", 403, 177, -90),
    ("scaled position", 620, 364, 0),
    ("no. neighbours within 3 body lengths", 14, 551, -90),
    ("scaled distance to centroid", 207, 742, 0),
    ("angular deviation from mean group<br>travelling direction (°)", 416, 551, -90),
    ("scaled distance to centroid", 624, 742, 0),
]
for text, x, y, ang in annots:
    fig.add_annotation(text=text, x=px_x(x), y=px_y(y), xref="paper", yref="paper", showarrow=False,
                       xanchor="center", yanchor="middle", textangle=ang, font=title_font,
                       borderpad=0)

fig.write_html("out.html")
